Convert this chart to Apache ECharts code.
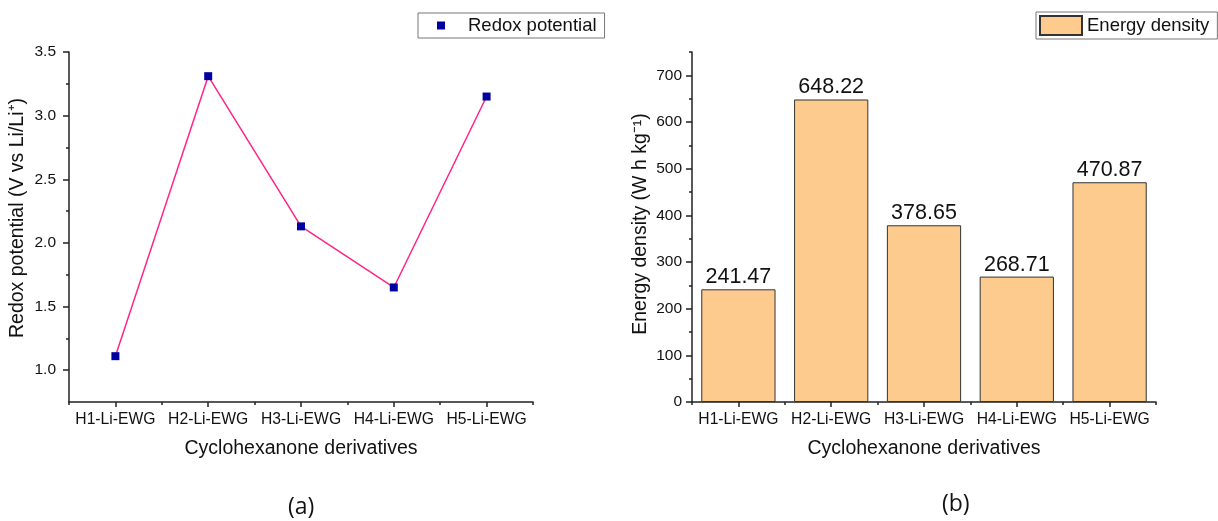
<!DOCTYPE html>
<html>
<head>
<meta charset="utf-8">
<script src="https://cdn.jsdelivr.net/npm/echarts@6/dist/echarts.min.js"></script>
<style>
html,body{margin:0;padding:0;background:#fff;}
#c{width:1218px;height:521px;}
</style>
</head>
<body>
<div id="c"></div>
<script>
// ---- data ----
const categories = ['H1-Li-EWG', 'H2-Li-EWG', 'H3-Li-EWG', 'H4-Li-EWG', 'H5-Li-EWG'];
const redoxPotential = [1.11, 3.31, 2.13, 1.65, 3.15];
const energyDensity = [241.47, 648.22, 378.65, 268.71, 470.87];
const redoxMajorTicks = [1.0, 1.5, 2.0, 2.5, 3.0, 3.5];
const redoxMinorTicks = [1.25, 1.75, 2.25, 2.75, 3.25];
const energyMajorTicks = [0, 100, 200, 300, 400, 500, 600, 700];
const energyMinorTicks = [50, 150, 250, 350, 450, 550, 650, 750];
const xTitle = 'Cyclohexanone derivatives';
const redoxTitle = 'Redox potential (V vs Li/Li\u207A)';
const energyTitle = 'Energy density (W h kg\u207B\u00B9)';

const FONT = "'Liberation Sans', Arial, sans-serif";
const AX = '#222';

function catAxes(gridIndex) {
  return [
    {
      type: 'category', gridIndex, data: categories, boundaryGap: true,
      axisLine: { show: true, lineStyle: { color: AX, width: 1.5 } },
      axisTick: { show: true, alignWithLabel: true, length: 5, lineStyle: { color: AX, width: 1.5 } },
      axisLabel: { color: '#111', fontSize: 15.7, fontFamily: FONT, margin: 10, interval: 0 },
      name: xTitle, nameLocation: 'middle', nameGap: 37,
      nameTextStyle: { color: '#111', fontSize: 19.5, fontFamily: FONT },
      splitLine: { show: false }
    },
    {
      type: 'category', gridIndex, data: categories, boundaryGap: true, position: 'bottom',
      axisLine: { show: false },
      axisTick: { show: true, alignWithLabel: false, length: 3, lineStyle: { color: AX, width: 1.5 } },
      axisLabel: { show: false },
      splitLine: { show: false }
    }
  ];
}

function valAxes(gridIndex, min, max, major, minor, title, fmt, labelMargin, namePad) {
  return [
    {
      type: 'value', gridIndex, min, max,
      axisLine: { show: true, lineStyle: { color: AX, width: 1.5 } },
      axisTick: { show: true, length: 6, customValues: major, lineStyle: { color: AX, width: 1.5 } },
      axisLabel: { color: '#111', fontSize: 15.5, fontFamily: FONT, margin: labelMargin, customValues: major, formatter: fmt },
      splitLine: { show: false },
      name: title, nameLocation: 'middle', nameGap: 41, nameRotate: 90,
      nameTextStyle: { color: '#111', fontSize: 19.5, fontFamily: FONT, padding: namePad }
    },
    {
      type: 'value', gridIndex, min, max, position: 'left',
      axisLine: { show: false },
      axisTick: { show: true, length: 3, customValues: minor, lineStyle: { color: AX, width: 1.5 } },
      axisLabel: { show: false },
      splitLine: { show: false }
    }
  ];
}

const chart = echarts.init(document.getElementById('c'), null, { renderer: 'canvas' });
chart.setOption({
  backgroundColor: '#fff',
  animation: false,
  textStyle: { fontFamily: FONT },
  grid: [
    { left: 69, top: 52, width: 464, height: 350 },
    { left: 692, top: 52, width: 464, height: 350 }
  ],
  xAxis: [...catAxes(0), ...catAxes(1)],
  yAxis: [
    ...valAxes(0, 0.75, 3.5, redoxMajorTicks, redoxMinorTicks, redoxTitle, v => v.toFixed(1), 13, [0, 0, 0, 18]),
    ...valAxes(1, 0, 750, energyMajorTicks, energyMinorTicks, energyTitle, v => String(v), 10, [0, 0, 0, 6])
  ],
  legend: [
    {
      data: [{ name: 'Redox potential', icon: 'rect', itemStyle: { color: '#0000a0', borderWidth: 0 } }],
      left: 418, top: 13, orient: 'horizontal',
      itemWidth: 8, itemHeight: 8,
      padding: [3, 8, 3, 19],
      borderColor: '#777', borderWidth: 1,
      textStyle: { color: '#111', fontSize: 18.5, fontFamily: FONT, padding: [0, 0, 0, 18] }
    },
    {
      data: [{ name: 'Energy density', icon: 'rect' }],
      left: 1036, top: 12, orient: 'horizontal',
      itemWidth: 42, itemHeight: 19,
      padding: [3, 8, 3, 3],
      borderColor: '#777', borderWidth: 1,
      textStyle: { color: '#111', fontSize: 18.5, fontFamily: FONT }
    }
  ],
  series: [
    {
      name: 'Redox potential', type: 'line', xAxisIndex: 0, yAxisIndex: 0,
      data: redoxPotential,
      symbol: 'rect', symbolSize: 8,
      lineStyle: { color: '#ff2488', width: 1.5 },
      itemStyle: { color: '#0000a0' }
    },
    {
      name: 'Energy density', type: 'bar', xAxisIndex: 2, yAxisIndex: 2,
      data: energyDensity,
      barCategoryGap: '20%',
      itemStyle: { color: '#fecb8f', borderColor: '#333', borderWidth: 1 },
      label: { show: true, position: 'top', distance: 1, color: '#111', fontSize: 21.5, fontFamily: FONT,
               formatter: p => p.value.toFixed(2) }
    }
  ],
  graphic: [
    { type: 'text', left: 288, top: 496, style: { text: '(a)', fontSize: 23, fontFamily: "'Open Sans', sans-serif", fill: '#111' } },
    { type: 'text', left: 942, top: 493, style: { text: '(b)', fontSize: 23, fontFamily: "'Open Sans', sans-serif", fill: '#111' } }
  ]
});
</script>
</body>
</html>
